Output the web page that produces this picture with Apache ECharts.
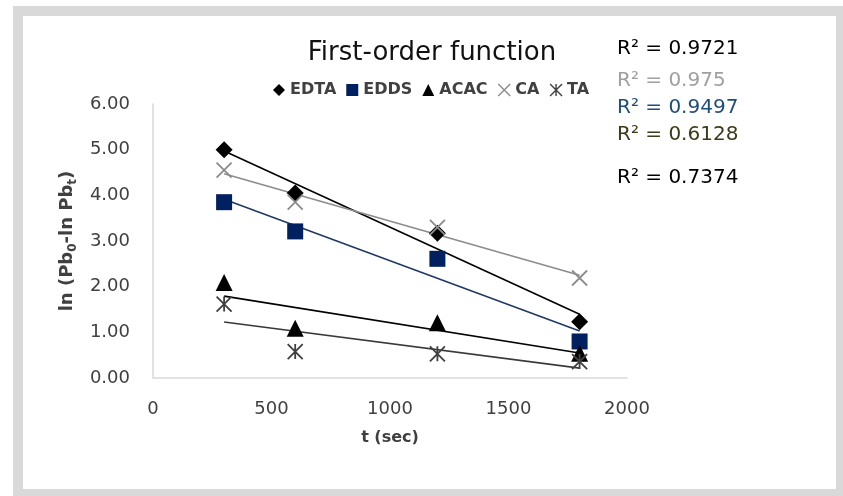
<!DOCTYPE html>
<html><head><meta charset="utf-8">
<script src="https://cdn.jsdelivr.net/npm/echarts@6/dist/echarts.min.js"></script>
<style>
html,body{margin:0;padding:0;background:#fff;}
#outer{position:absolute;left:13px;top:6px;width:830px;height:490px;background:#d9d9d9;}
#inner{position:absolute;left:10px;top:10px;width:813px;height:473px;background:#fff;}
#chart{position:absolute;left:0;top:0;width:843px;height:496px;}
</style></head>
<body>
<div id="outer"><div id="inner"></div></div>
<div id="chart"></div>
<script>
// Data
const times = [300, 600, 1200, 1800];
const edta = [5.00, 4.05, 3.17, 1.23];
const edds = [3.85, 3.21, 2.61, 0.80];
const acac = [2.09, 1.09, 1.21, 0.54];
const ca   = [4.55, 3.85, 3.30, 2.19];
const ta   = [1.62, 0.58, 0.53, 0.36];
const seriesNames = ['EDTA', 'EDDS', 'ACAC', 'CA', 'TA'];
const r2Labels = ['R² = 0.9721', 'R² = 0.975', 'R² = 0.9497', 'R² = 0.6128', 'R² = 0.7374'];
const yTicks = [0, 1, 2, 3, 4, 5, 6];
const xTicks = [0, 500, 1000, 1500, 2000];

const FONT = 'DejaVu Sans';
const crossPath = 'path://M0,0L10,10M10,0L0,10';
const starPath = 'path://M0,0L10,10M10,0L0,10M5,0L5,10';

function pairs(ys) { return times.map((t, i) => [t, ys[i]]); }
// Linear least-squares trendline (as in the spreadsheet), spanning the data's x range
function trend(ys) {
  const n = times.length;
  const mx = times.reduce((a, b) => a + b, 0) / n;
  const my = ys.reduce((a, b) => a + b, 0) / n;
  let sxy = 0, sxx = 0;
  for (let i = 0; i < n; i++) { sxy += (times[i] - mx) * (ys[i] - my); sxx += (times[i] - mx) ** 2; }
  const b = sxy / sxx, a = my - b * mx;
  const x0 = Math.min(...times), x1 = Math.max(...times);
  return [[x0, a + b * x0], [x1, a + b * x1]];
}

const styles = {
  EDTA: { symbol: 'diamond', size: 17, item: { color: '#000', opacity: 1 }, line: '#000', legendItem: { color: '#000', opacity: 1 } },
  EDDS: { symbol: 'rect', size: 16, item: { color: '#002060', opacity: 1 }, line: '#1f3864', legendItem: { color: '#002060', opacity: 1 } },
  ACAC: { symbol: 'triangle', size: 17, item: { color: '#000', opacity: 1 }, line: '#000', legendItem: { color: '#000', opacity: 1 } },
  CA:   { symbol: crossPath, size: 15, item: { color: 'transparent', borderColor: '#8c8c8c', borderWidth: 1.8, opacity: 1 }, line: '#8c8c8c', legendItem: { color: 'transparent', borderColor: '#8c8c8c', borderWidth: 1.4 } },
  TA:   { symbol: starPath, size: 15, item: { color: 'transparent', borderColor: '#404040', borderWidth: 1.8, opacity: 1 }, line: '#3a3a3a', legendItem: { color: 'transparent', borderColor: '#404040', borderWidth: 1.4 } }
};
const dataMap = { EDTA: edta, EDDS: edds, ACAC: acac, CA: ca, TA: ta };

const series = [];
seriesNames.forEach(name => {
  const s = styles[name];
  series.push({
    name: name + ' trend', type: 'line', data: trend(dataMap[name]), symbol: 'none',
    lineStyle: { color: s.line, width: 1.6 }, silent: true, z: 2, animation: false
  });
});
seriesNames.forEach(name => {
  const s = styles[name];
  series.push({
    name: name, type: 'scatter', data: pairs(dataMap[name]), symbol: s.symbol, symbolSize: s.size,
    itemStyle: s.item, z: 3, animation: false
  });
});

const r2Colors = ['#000000', '#a0a0a0', '#1f4e79', '#3b3b17', '#000000'];
const r2Y = [48, 80, 107, 134, 177];

const chart = echarts.init(document.getElementById('chart'), null, { renderer: 'canvas' });
chart.setOption({
  animation: false,
  title: {
    text: 'First-order function', left: 427, top: 35, textAlign: 'center',
    textStyle: { fontFamily: FONT, fontWeight: 'normal', fontSize: 26, color: '#111' }
  },
  legend: {
    left: 268, top: 77, itemGap: 10, itemWidth: 12, itemHeight: 12, selectedMode: false,
    textStyle: { fontFamily: FONT, fontWeight: 'bold', fontSize: 16, color: '#404040' },
    data: seriesNames.map(n => ({ name: n, icon: styles[n].symbol, itemStyle: styles[n].legendItem }))
  },
  grid: { left: 153, top: 104, width: 474, height: 274, containLabel: false },
  xAxis: {
    type: 'value', min: xTicks[0], max: xTicks[xTicks.length - 1], interval: 500,
    name: 't (sec)', nameLocation: 'middle', nameGap: 52,
    nameTextStyle: { fontFamily: FONT, fontWeight: 'bold', fontSize: 16, color: '#404040' },
    axisLine: { show: true, lineStyle: { color: '#d9d9d9', width: 1.5 } },
    axisTick: { show: false }, splitLine: { show: false },
    axisLabel: { fontFamily: FONT, fontSize: 18, color: '#404040', margin: 22, formatter: v => String(v) }
  },
  yAxis: {
    type: 'value', min: yTicks[0], max: yTicks[yTicks.length - 1], interval: 1,
    name: '{a|ln (Pb}{s|0}{a|-ln Pb}{s|t}{a|)}', nameLocation: 'middle', nameGap: 73, nameRotate: 90,
    nameTextStyle: {
      fontFamily: FONT, fontWeight: 'bold', fontSize: 18, color: '#404040',
      rich: {
        a: { fontFamily: FONT, fontWeight: 'bold', fontSize: 18, color: '#404040', lineHeight: 23 },
        s: { fontFamily: FONT, fontWeight: 'bold', fontSize: 12, color: '#404040', lineHeight: 23, padding: [11, 0, 0, 0] }
      }
    },
    axisLine: { show: true, lineStyle: { color: '#d9d9d9', width: 1.5 } },
    axisTick: { show: false }, splitLine: { show: false },
    axisLabel: { fontFamily: FONT, fontSize: 18, color: '#404040', margin: 23, formatter: v => v.toFixed(2) }
  },
  graphic: r2Labels.map((t, i) => ({
    type: 'text', left: 617, top: r2Y[i] - 9, z: 100,
    style: { text: t, fontFamily: FONT, fontSize: 20, fill: r2Colors[i] }
  })),
  series: series
});
</script>
</body></html>
